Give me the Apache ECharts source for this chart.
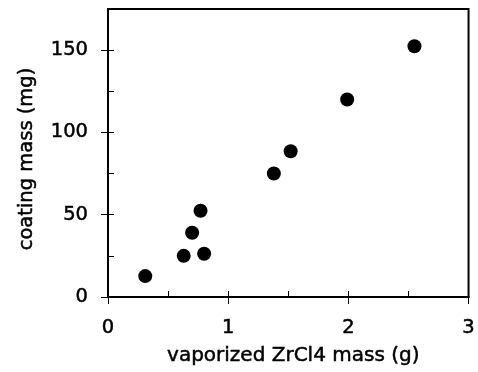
<!DOCTYPE html>
<html>
<head>
<meta charset="utf-8">
<script src="https://cdn.jsdelivr.net/npm/echarts@6/dist/echarts.min.js"></script>
<style>
html,body{margin:0;padding:0;background:#fff;}
#chart{width:478px;height:372px;}
</style>
</head>
<body>
<div id="chart"></div>
<script>
// Data
const vaporizedMass = [0.31, 0.63, 0.80, 0.70, 0.77, 1.38, 1.52, 1.99, 2.55];
const coatingMass   = [12.7, 25.0, 26.3, 39.0, 52.4, 75.0, 88.6, 120.0, 152.4];
const xTickValues = [0, 1, 2, 3];
const xMinorTickValues = [0, 0.5, 1, 1.5, 2, 2.5, 3];
const yTickValues = [0, 50, 100, 150];
const yMinorTickValues = [0, 25, 50, 75, 100, 125, 150];
const xTitle = 'vaporized ZrCl4 mass (g)';
const yTitle = 'coating mass (mg)';

const points = vaporizedMass.map((x, i) => [x, coatingMass[i]]);
const FONT = 'DejaVu Sans';
const chart = echarts.init(document.getElementById('chart'), null, {renderer: 'canvas'});
const lineStyle = {color: '#000', width: 2};
const txt = {color: '#000', fontFamily: FONT, textBorderColor: '#000', textBorderWidth: 0.5};

chart.setOption({
  backgroundColor: '#fff',
  animation: false,
  grid: {left: 108, right: 6, top: 9, bottom: 75, show: true, borderColor: '#000', borderWidth: 2, backgroundColor: 'transparent'},
  xAxis: [{
    type: 'value', min: 0, max: 3, interval: 1, position: 'bottom',
    axisLine: {show: true, lineStyle: lineStyle},
    axisTick: {show: true, inside: false, length: 7, lineStyle: {color: '#000', width: 1}, customValues: xTickValues},
    axisLabel: Object.assign({show: true, margin: 21, fontSize: 19.5, customValues: xTickValues}, txt),
    splitLine: {show: false},
    name: xTitle, nameLocation: 'middle', nameGap: 49,
    nameTextStyle: Object.assign({fontSize: 20, padding: [0, 0, 0, 10]}, txt)
  }, {
    type: 'value', min: 0, max: 3, interval: 1, position: 'bottom',
    axisLine: {show: false},
    axisTick: {show: true, inside: true, length: 6, lineStyle: {color: '#000', width: 1}, customValues: xMinorTickValues},
    axisLabel: {show: false},
    splitLine: {show: false}
  }],
  yAxis: [{
    type: 'value', min: 0, max: 175, position: 'left',
    axisLine: {show: true, lineStyle: lineStyle},
    axisTick: {show: true, inside: false, length: 7, lineStyle: {color: '#000', width: 1}, customValues: yTickValues},
    axisLabel: Object.assign({show: true, margin: 20, fontSize: 19.5, padding: [0, 0, 11, 0], customValues: yTickValues}, txt),
    splitLine: {show: false},
    name: yTitle, nameLocation: 'middle', nameGap: 71, nameRotate: 90,
    nameTextStyle: Object.assign({fontSize: 19.5, padding: [0, 12, 0, 0]}, txt)
  }, {
    type: 'value', min: 0, max: 175, position: 'left',
    axisLine: {show: false},
    axisTick: {show: true, inside: true, length: 6, lineStyle: {color: '#000', width: 1}, customValues: yMinorTickValues},
    axisLabel: {show: false},
    splitLine: {show: false}
  }],
  series: [{
    type: 'scatter',
    xAxisIndex: 0, yAxisIndex: 0,
    data: points,
    symbol: 'circle',
    symbolSize: 14,
    itemStyle: {color: '#000', opacity: 1}
  }]
});
</script>
</body>
</html>
